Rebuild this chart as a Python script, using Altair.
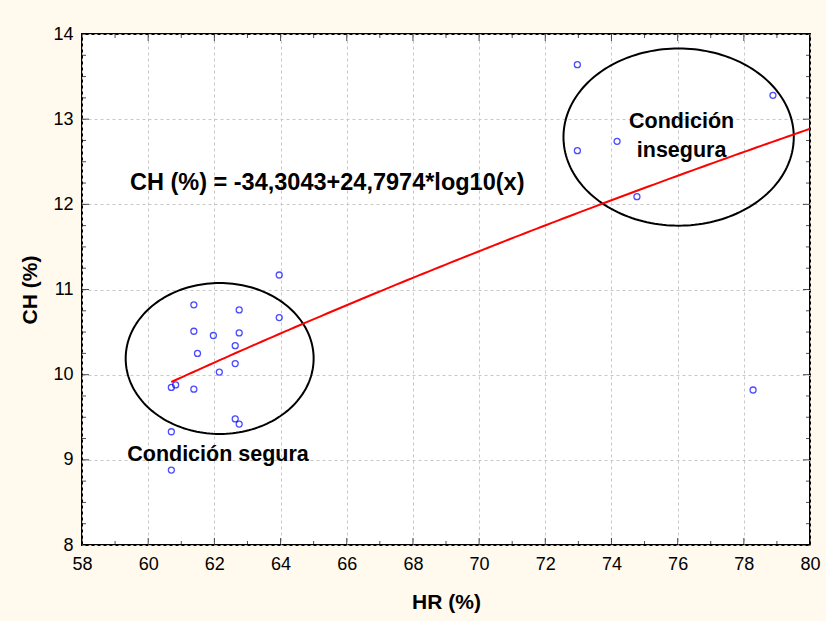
import altair as alt
import numpy as np
import pandas as pd

# Relative humidity (HR, %) and moisture content (CH, %) observations
hr = [63.96, 61.38, 62.75, 63.96, 61.38, 61.97, 62.75, 62.63, 61.49, 62.63, 62.15,
      60.70, 60.83, 61.38, 62.63, 62.75, 60.70, 60.70,
      72.97, 78.88, 74.17, 72.97, 74.77, 78.28]
ch = [11.17, 10.82, 10.76, 10.67, 10.51, 10.46, 10.49, 10.34, 10.25, 10.13, 10.03,
      9.85, 9.88, 9.83, 9.48, 9.42, 9.33, 8.88,
      13.64, 13.28, 12.74, 12.63, 12.09, 9.82]

# Fitted model: CH = a + b*log10(HR)
fit_a = -34.3043
fit_b = 24.7974
fit_range = [60.7, 80.0]

# Grouping ellipses: centre (HR, CH) and semi-axes (HR units, CH units)
ell_names = ["segura", "insegura"]
ell_cx = [62.16, 76.03]
ell_cy = [10.19, 12.79]
ell_rx = [2.84, 3.48]
ell_ry = [0.886, 1.04]

# Annotations (position of the first text line)
eq_text = "CH (%) = -34,3043+24,7974*log10(x)"
eq_pos = [59.45, 12.25]
lab_safe = "Condición segura"
lab_safe_pos = [62.11, 9.06]
lab_unsafe = ["Condición", "insegura"]
lab_unsafe_pos = [76.12, 12.97]

x_ticks = list(range(58, 81, 2))
y_ticks = list(range(8, 15))
x_minor = [v for v in range(58, 81) if v % 2 == 1]
y_minor = [8 + 0.25 * i for i in range(25) if i % 4 != 0]

FONT = "Liberation Sans"
BG = "#FFF9EE"

xs = alt.Scale(domain=[58, 80], nice=False, zero=False)
ys = alt.Scale(domain=[8, 14], nice=False, zero=False)

pts = pd.DataFrame({"HR": hr, "CH": ch})
xx = np.linspace(fit_range[0], fit_range[1], 120)
curve = pd.DataFrame({"HR": xx, "CH": fit_a + fit_b * np.log10(xx)})

t = np.linspace(0, 2 * np.pi, 181)
ell_rows = []
for n, cx, cy, rx, ry in zip(ell_names, ell_cx, ell_cy, ell_rx, ell_ry):
    for i, a in enumerate(t):
        ell_rows.append({"g": n, "i": i, "HR": cx + rx * np.cos(a), "CH": cy + ry * np.sin(a)})
ell = pd.DataFrame(ell_rows)

axis_common = dict(grid=True, gridDash=[3, 3], gridColor="#c8c8c8", gridWidth=1,
                   domain=False, ticks=False, format="d", labelFlush=False,
                   labelFont=FONT, labelFontSize=18, labelColor="#000",
                   titleFont=FONT, titleFontSize=21, titleFontWeight="bold",
                   titleColor="#000")
x_axis = alt.Axis(values=x_ticks, title="HR (%)", labelPadding=10, titlePadding=18,
                  **axis_common)
y_axis = alt.Axis(values=y_ticks, title="CH (%)", labelPadding=9, titlePadding=12,
                  **axis_common)

base_pts = alt.Chart(pts).mark_point(shape="circle", filled=False, color="#0000FF",
                                     size=36, strokeWidth=1.3).encode(
    x=alt.X("HR:Q", scale=xs, axis=x_axis),
    y=alt.Y("CH:Q", scale=ys, axis=y_axis),
)

line = alt.Chart(curve).mark_line(color="#FF0000", strokeWidth=2).encode(
    x=alt.X("HR:Q", scale=xs), y=alt.Y("CH:Q", scale=ys))

ellipses = alt.Chart(ell).mark_line(color="#000000", strokeWidth=2).encode(
    x=alt.X("HR:Q", scale=xs), y=alt.Y("CH:Q", scale=ys),
    detail="g:N", order="i:Q")

def label(df, **kw):
    return alt.Chart(df).mark_text(font=FONT, fontWeight="bold", color="#000", **kw).encode(
        x=alt.X("x:Q", scale=xs), y=alt.Y("y:Q", scale=ys), text="t")

eq = label(pd.DataFrame({"x": [eq_pos[0]], "y": [eq_pos[1]], "t": [eq_text]}),
           fontSize=23.5, align="left", baseline="middle")
safe = label(pd.DataFrame({"x": [lab_safe_pos[0]], "y": [lab_safe_pos[1]], "t": [lab_safe]}),
             fontSize=21.5, align="center", baseline="middle")
unsafe = alt.Chart(pd.DataFrame({"x": [lab_unsafe_pos[0]], "y": [lab_unsafe_pos[1]]})).mark_text(
    font=FONT, fontWeight="bold", color="#000", fontSize=21.5, align="center",
    baseline="middle", lineHeight=29, text=lab_unsafe).encode(
    x=alt.X("x:Q", scale=xs), y=alt.Y("y:Q", scale=ys))

# Inward tick marks on all four sides of the frame
def xticks(vals, size, edge, sign):
    return alt.Chart(pd.DataFrame({"v": vals})).mark_tick(
        orient="vertical", size=size, thickness=1, color="#000").encode(
        x=alt.X("v:Q", scale=xs), y=alt.datum(edge, scale=ys),
        yOffset=alt.value(sign * size / 2))

def yticks(vals, size, edge, sign):
    return alt.Chart(pd.DataFrame({"v": vals})).mark_tick(
        orient="horizontal", size=size, thickness=1, color="#000").encode(
        y=alt.Y("v:Q", scale=ys), x=alt.datum(edge, scale=xs),
        xOffset=alt.value(sign * size / 2))

tick_layers = [
    xticks(x_ticks, 7, 8, -1), xticks(x_minor, 4, 8, -1),
    xticks(x_ticks, 7, 14, 1), xticks(x_minor, 4, 14, 1),
    yticks(y_ticks, 7, 58, 1), yticks(y_minor, 4, 58, 1),
    yticks(y_ticks, 7, 80, -1), yticks(y_minor, 4, 80, -1),
]

chart = alt.layer(base_pts, ellipses, line, eq, safe, unsafe, *tick_layers).properties(
    width=728, height=511, background=BG,
    autosize=alt.AutoSizeParams(type="none"),
    padding={"left": 82, "top": 34, "right": 16, "bottom": 76},
).configure_view(
    stroke="#000", strokeWidth=2, fill="#FFFFFF"
)

chart.save("out.html", embed_options={"renderer": "svg", "actions": False})
